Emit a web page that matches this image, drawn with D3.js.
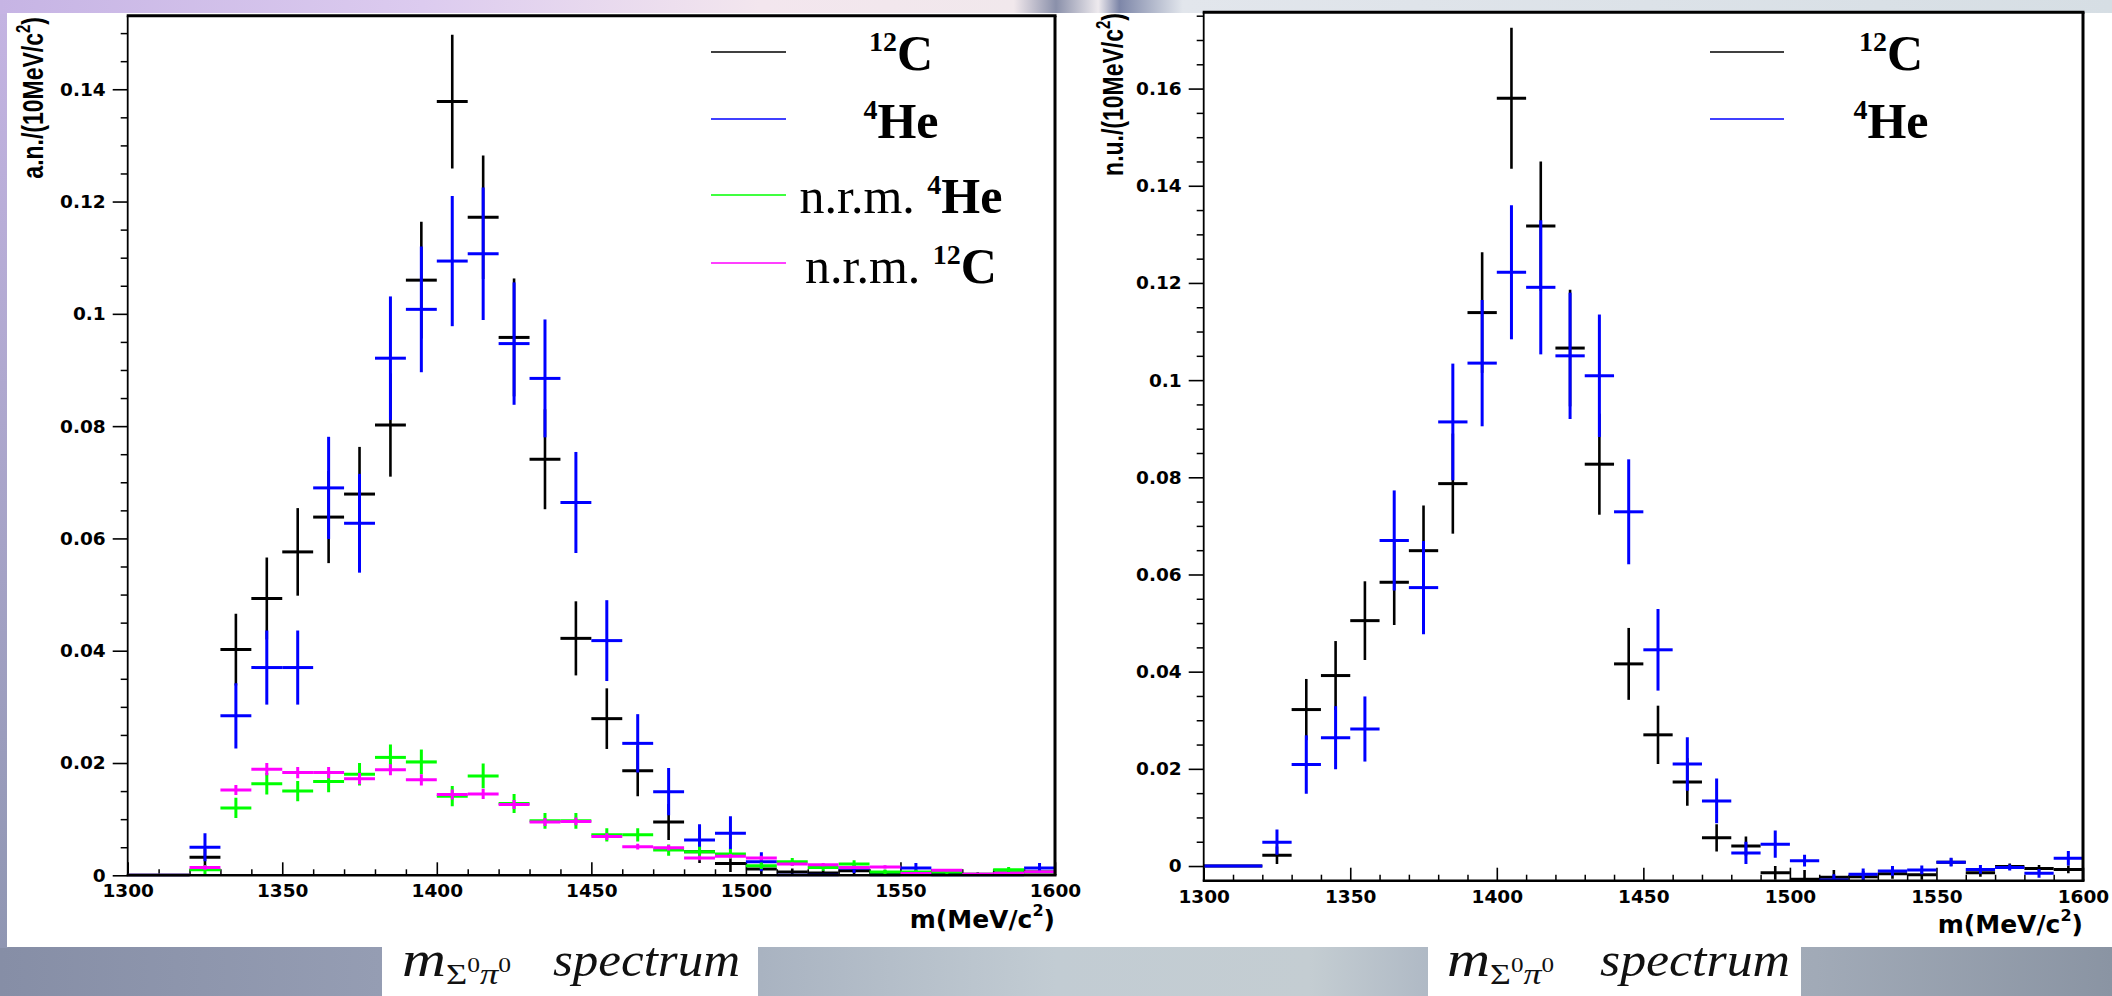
<!DOCTYPE html>
<html><head><meta charset="utf-8">
<script src="https://cdn.jsdelivr.net/npm/d3@7/dist/d3.min.js"></script>
<style>html,body{margin:0;padding:0;overflow:hidden;background:#fff}</style>
</head><body>
<svg id="chart" width="2112" height="996" xmlns="http://www.w3.org/2000/svg"></svg>
<script>
// ---------------- DATA ----------------
const bins = [1305,1315,1325,1335,1345,1355,1365,1375,1385,1395,1405,1415,1425,1435,1445,1455,1465,1475,1485,1495,1505,1515,1525,1535,1545,1555,1565,1575,1585,1595];
const binHalfWidth = 5;

// Left panel (a.n.)
const c12Left    = [0,0,0.0032,0.0402,0.0493,0.0576,0.0638,0.0679,0.0802,0.1060,0.1378,0.1172,0.0958,0.0741,0.0422,0.0279,0.0186,0.0095,0.0042,0.0021,0.0011,0.0006,0.0004,0.0008,0.0005,0.0004,0.0003,0.0002,0.0004,0.0006];
const c12LeftErr = [0,0,0.0015,0.0064,0.0073,0.0078,0.0082,0.0084,0.0092,0.0104,0.0119,0.0110,0.0105,0.0089,0.0066,0.0054,0.0045,0.0032,0.0020,0.0015,0.0010,0.0006,0.0005,0.0007,0.0005,0.0005,0.0004,0.0003,0.0005,0.0006];
const he4Left    = [0,0,0.0050,0.0284,0.0370,0.0370,0.0690,0.0627,0.0921,0.1008,0.1094,0.1107,0.0947,0.0885,0.0664,0.0418,0.0235,0.0149,0.0063,0.0075,0.0024,0,0,0.0013,0,0.0013,0,0,0,0.0013];
const he4LeftErr = [0,0,0.0025,0.0058,0.0066,0.0066,0.0091,0.0088,0.0110,0.0112,0.0116,0.0118,0.0109,0.0105,0.0090,0.0072,0.0052,0.0042,0.0028,0.0030,0.0017,0,0,0.0009,0,0.0009,0,0,0,0.0009];
const nrmHe4Left    = [0,0,0.0010,0.0120,0.0163,0.0150,0.0167,0.0180,0.0210,0.0202,0.0141,0.0177,0.0128,0.0097,0.0097,0.0072,0.0072,0.0045,0.0042,0.0038,0.0017,0.0024,0.0014,0.0020,0.0006,0.0006,0.0006,0.0001,0.0010,0.0002];
const nrmHe4LeftErr = [0,0,0.0008,0.0018,0.0019,0.0018,0.0019,0.0020,0.0023,0.0022,0.0018,0.0022,0.0017,0.0014,0.0014,0.0012,0.0012,0.0010,0.0009,0.0009,0.0006,0.0007,0.0006,0.0007,0.0004,0.0004,0.0004,0.0002,0.0005,0.0003];
const nrmC12Left    = [0,0,0.0014,0.0152,0.0189,0.0183,0.0183,0.0172,0.0188,0.0170,0.0144,0.0145,0.0126,0.0095,0.0096,0.0069,0.0051,0.0049,0.0031,0.0034,0.0031,0.0020,0.0019,0.0014,0.0015,0.0003,0.0009,0.0002,0.0003,0.0006];
const nrmC12LeftErr = [0,0,0.0004,0.0009,0.0011,0.0010,0.0010,0.0010,0.0010,0.0010,0.0009,0.0009,0.0008,0.0007,0.0007,0.0006,0.0005,0.0005,0.0004,0.0004,0.0004,0.0003,0.0003,0.0003,0.0003,0.0002,0.0002,0.0001,0.0002,0.0002];

// Right panel (n.u.)
const c12Right    = [0,0,0.0022,0.0322,0.0392,0.0505,0.0584,0.0649,0.0787,0.1139,0.1580,0.1317,0.1066,0.0827,0.0416,0.0270,0.0173,0.0058,0.0041,-0.0014,-0.0027,-0.0023,-0.0022,-0.0016,-0.0018,0.0008,-0.0014,-0.0001,-0.0005,-0.0007];
const c12RightErr = [0,0,0.0018,0.0063,0.0071,0.0081,0.0088,0.0093,0.0103,0.0124,0.0145,0.0133,0.0120,0.0104,0.0074,0.0060,0.0049,0.0028,0.0020,0.0014,0.0019,0.0015,0.0012,0.0010,0.0010,0.0008,0.0008,0.0006,0.0007,0.0008];
const he4Right    = [0,0,0.0049,0.0209,0.0264,0.0282,0.0670,0.0573,0.0914,0.1035,0.1222,0.1191,0.1050,0.1009,0.0729,0.0445,0.0210,0.0134,0.0027,0.0045,0.0011,-0.0029,-0.0017,-0.0010,-0.0008,0.0008,-0.0007,-0.0003,-0.0015,0.0016];
const he4RightErr = [0,0,0.0026,0.0060,0.0065,0.0067,0.0103,0.0096,0.0120,0.0130,0.0138,0.0138,0.0130,0.0126,0.0108,0.0084,0.0055,0.0046,0.0023,0.0028,0.0012,0.0012,0.0012,0.0010,0.0009,0.0009,0.0009,0.0006,0.0009,0.0015];

const xTickValues = [1300,1350,1400,1450,1500,1550,1600];
const xTickLabels = ["1300","1350","1400","1450","1500","1550","1600"];
const yTickValuesLeft  = [0,0.02,0.04,0.06,0.08,0.1,0.12,0.14];
const yTickLabelsLeft  = ["0","0.02","0.04","0.06","0.08","0.1","0.12","0.14"];
const yTickValuesRight = [0,0.02,0.04,0.06,0.08,0.1,0.12,0.14,0.16];
const yTickLabelsRight = ["0","0.02","0.04","0.06","0.08","0.1","0.12","0.14","0.16"];

const legendLeft  = [{pre:"", sup:"12", main:"C"}, {pre:"", sup:"4", main:"He"}, {pre:"n.r.m. ", sup:"4", main:"He"}, {pre:"n.r.m. ", sup:"12", main:"C"}];
const legendRight = [{pre:"", sup:"12", main:"C"}, {pre:"", sup:"4", main:"He"}];

// ---------------- DRAWING ----------------
const svg = d3.select('#chart');
const defs = svg.append('defs');

function hGrad(id, stops){
  const g = defs.append('linearGradient').attr('id', id).attr('x1','0').attr('x2','1').attr('y1','0').attr('y2','0');
  stops.forEach(s => g.append('stop').attr('offset', s[0]).attr('stop-color', s[1]));
}
hGrad('gTop', [[0,'#c6b4e4'],[0.2,'#dccbef'],[0.36,'#f3e6ee'],[0.48,'#f1e8ec'],[0.5,'#8a90aa'],[0.52,'#eeeaee'],[0.53,'#7d86a8'],[0.56,'#e2e6ec'],[1,'#d6dee4']]);
hGrad('gBot', [[0,'#868ea6'],[0.18,'#959db3'],[0.36,'#a9b3c1'],[0.5,'#c2ccd3'],[0.62,'#c4cdd2'],[0.68,'#aeb8c4'],[0.86,'#a1aab7'],[1,'#8a94a3']]);
const vg = defs.append('linearGradient').attr('id','gLeft').attr('x1','0').attr('x2','0').attr('y1','0').attr('y2','1');
vg.append('stop').attr('offset',0).attr('stop-color','#c4b4e2');
vg.append('stop').attr('offset',1).attr('stop-color','#8f96b2');

svg.append('rect').attr('x',0).attr('y',0).attr('width',2112).attr('height',996).attr('fill','url(#gBot)');
svg.append('rect').attr('x',0).attr('y',0).attr('width',2112).attr('height',16).attr('fill','url(#gTop)');
svg.append('rect').attr('x',0).attr('y',14).attr('width',8).attr('height',934).attr('fill','url(#gLeft)');
svg.append('rect').attr('x',7).attr('y',13).attr('width',2105).attr('height',934).attr('fill','#ffffff');

const plots = [
  { id:'L', x0:127.7, x1:1055, yTop:15.7, yBot:875.3, yDomain:[0,0.1531],
    yTicks:yTickValuesLeft, yLabels:yTickLabelsLeft, yTitle:"a.n./(10MeV/c", titleX:43, titleEndY:17,
    series:[
      {v:c12Left, e:c12LeftErr, color:'#000000', w:2.6},
      {v:he4Left, e:he4LeftErr, color:'#0000ff', w:3},
      {v:nrmHe4Left, e:nrmHe4LeftErr, color:'#00ff00', w:3},
      {v:nrmC12Left, e:nrmC12LeftErr, color:'#ff00ff', w:3}],
    legend:legendLeft, legendColors:['#000000','#0000ff','#00ff00','#ff00ff'],
    legendLineX:[711,786], legendTextX:901, legendLineY:[52,119,195,263], legendTextY:[70,138,213,283],
    xTitleY:928, xLabelY:897 },
  { id:'R', x0:1203.7, x1:2083, yTop:12.3, yBot:880.7, yDomain:[-0.00302,0.1757],
    yTicks:yTickValuesRight, yLabels:yTickLabelsRight, yTitle:"n.u./(10MeV/c", titleX:1123, titleEndY:13,
    series:[
      {v:c12Right, e:c12RightErr, color:'#000000', w:2.6},
      {v:he4Right, e:he4RightErr, color:'#0000ff', w:3}],
    legend:legendRight, legendColors:['#000000','#0000ff'],
    legendLineX:[1710,1784], legendTextX:1891, legendLineY:[52,119], legendTextY:[70,138],
    xTitleY:933, xLabelY:903 }
];

plots.forEach(p => {
  const x = d3.scaleLinear().domain([1300,1600]).range([p.x0, p.x1]);
  const y = d3.scaleLinear().domain(p.yDomain).range([p.yBot, p.yTop]);
  const g = svg.append('g');

  defs.append('clipPath').attr('id','clip'+p.id).append('rect')
    .attr('x',p.x0).attr('y',p.yTop).attr('width',p.x1-p.x0).attr('height',p.yBot-p.yTop+1);

  // x axis (ticks inside)
  const xMinor = d3.range(1300,1601,10).filter(v => xTickValues.indexOf(v) < 0);
  g.append('g').attr('transform',`translate(0,${p.yBot})`)
    .call(d3.axisBottom(x).tickValues(xMinor).tickSize(-6).tickFormat(''))
    .call(s => { s.select('.domain').remove(); s.selectAll('line').attr('stroke','#000').attr('stroke-width',1.5); });
  g.append('g').attr('transform',`translate(0,${p.yBot})`)
    .call(d3.axisBottom(x).tickValues(xTickValues).tickSize(-13).tickPadding(0)
      .tickFormat((d,i) => xTickLabels[i]))
    .call(s => {
      s.select('.domain').remove();
      s.selectAll('line').attr('stroke','#000').attr('stroke-width',1.6);
      s.selectAll('text').attr('y', p.xLabelY - p.yBot).attr('dy', null)
        .attr('font-family','DejaVu Sans').attr('font-weight','bold').attr('font-size',18.5).attr('fill','#000');
    });

  // y axis (ticks outside)
  const yMinor = d3.range(-0.005, p.yDomain[1], 0.005).map(v => +v.toFixed(3))
    .filter(v => v >= p.yDomain[0] && p.yTicks.indexOf(v) < 0);
  g.append('g').attr('transform',`translate(${p.x0},0)`)
    .call(d3.axisLeft(y).tickValues(yMinor).tickSize(7).tickFormat(''))
    .call(s => { s.select('.domain').remove(); s.selectAll('line').attr('stroke','#000').attr('stroke-width',1.5); });
  g.append('g').attr('transform',`translate(${p.x0},0)`)
    .call(d3.axisLeft(y).tickValues(p.yTicks).tickSize(15).tickPadding(7)
      .tickFormat((d,i) => p.yLabels[i]))
    .call(s => {
      s.select('.domain').remove();
      s.selectAll('line').attr('stroke','#000').attr('stroke-width',1.6);
      s.selectAll('text').attr('font-family','DejaVu Sans').attr('font-weight','bold').attr('font-size',18.5).attr('fill','#000');
    });

  // data crosses
  const dg = g.append('g').attr('clip-path',`url(#clip${p.id})`);
  p.series.forEach(sr => {
    const rows = bins.map((c,i) => ({c:c, v:sr.v[i], e:sr.e[i]}));
    const sg = dg.append('g').attr('stroke', sr.color).attr('fill','none');
    sg.selectAll('line.h').data(rows).join('line').attr('class','h')
      .attr('x1', d => x(d.c - binHalfWidth)).attr('x2', d => x(d.c + binHalfWidth))
      .attr('y1', d => y(d.v)).attr('y2', d => y(d.v)).attr('stroke-width', 3);
    sg.selectAll('line.v').data(rows.filter(d => d.e > 0)).join('line').attr('class','v')
      .attr('x1', d => x(d.c)).attr('x2', d => x(d.c))
      .attr('y1', d => y(d.v - d.e)).attr('y2', d => y(d.v + d.e)).attr('stroke-width', sr.w);
  });

  // frame
  g.append('line').attr('x1',p.x0).attr('x2',p.x0).attr('y1',p.yTop).attr('y2',p.yBot).attr('stroke','#000').attr('stroke-width',1.8);
  g.append('line').attr('x1',p.x0-1).attr('x2',p.x1+1.5).attr('y1',p.yTop).attr('y2',p.yTop).attr('stroke','#000').attr('stroke-width',3);
  g.append('line').attr('x1',p.x1).attr('x2',p.x1).attr('y1',p.yTop).attr('y2',p.yBot).attr('stroke','#000').attr('stroke-width',3);
  g.append('line').attr('x1',p.x0-1).attr('x2',p.x1+1.5).attr('y1',p.yBot).attr('y2',p.yBot).attr('stroke','#000').attr('stroke-width',2.6);

  // y title (horizontally widened like the reference)
  const yt = g.append('text').attr('transform',`translate(${p.titleX},${p.titleEndY}) scale(1.3,1) rotate(-90)`)
    .attr('text-anchor','end').attr('font-family','Liberation Sans').attr('font-weight','bold').attr('font-size',23).attr('fill','#000');
  yt.append('tspan').text(p.yTitle);
  yt.append('tspan').attr('font-size',15).attr('dy',-10).text('2');
  yt.append('tspan').attr('dy',10).text(')');

  // x title
  const xt = g.append('text').attr('x', p.x1).attr('y', p.xTitleY).attr('text-anchor','end')
    .attr('font-family','DejaVu Sans').attr('font-weight','bold').attr('font-size',25).attr('fill','#000');
  xt.append('tspan').text('m(MeV/c');
  xt.append('tspan').attr('font-size',16).attr('dy',-12).text('2');
  xt.append('tspan').attr('dy',12).text(')');

  // legend
  p.legend.forEach((L,i) => {
    g.append('line').attr('x1',p.legendLineX[0]).attr('x2',p.legendLineX[1])
      .attr('y1',p.legendLineY[i]).attr('y2',p.legendLineY[i]).attr('stroke',p.legendColors[i]).attr('stroke-width',1.6);
    const t = g.append('text').attr('x',p.legendTextX).attr('y',p.legendTextY[i]).attr('text-anchor','middle')
      .attr('font-family','Liberation Serif').attr('font-size',50).attr('fill','#000');
    if (L.pre) t.append('tspan').text(L.pre);
    t.append('tspan').attr('font-size',28).attr('dy',-19).attr('font-weight','bold').text(L.sup);
    t.append('tspan').attr('dy',19).attr('font-weight','bold').text(L.main);
  });
});

// bottom caption boxes
const captions = [{x0:382, x1:758, m0:402, m1:511, s0:553, s1:740}, {x0:1428, x1:1801, m0:1447, m1:1554, s0:1600, s1:1790}];
captions.forEach(cp => {
  svg.append('rect').attr('x',cp.x0).attr('y',947).attr('width',cp.x1-cp.x0).attr('height',49).attr('fill','#ffffff');
  const t = svg.append('text').attr('x',cp.m0).attr('y',976)
    .attr('textLength', cp.m1 - cp.m0).attr('lengthAdjust','spacingAndGlyphs')
    .attr('font-family','Liberation Serif').attr('font-style','italic').attr('font-size',50).attr('fill','#111');
  t.append('tspan').text('m');
  t.append('tspan').attr('font-size',30).attr('dy',8).attr('font-style','normal').text('Σ');
  t.append('tspan').attr('font-size',21).attr('dy',-12).attr('font-style','normal').text('0');
  t.append('tspan').attr('font-size',30).attr('dy',12).text('π');
  t.append('tspan').attr('font-size',21).attr('dy',-12).attr('font-style','normal').text('0');
  svg.append('text').attr('x',cp.s0).attr('y',976)
    .attr('textLength', cp.s1 - cp.s0).attr('lengthAdjust','spacingAndGlyphs')
    .attr('font-family','Liberation Serif').attr('font-style','italic').attr('font-size',48).attr('fill','#111')
    .text('spectrum');
});
</script>
</body></html>
